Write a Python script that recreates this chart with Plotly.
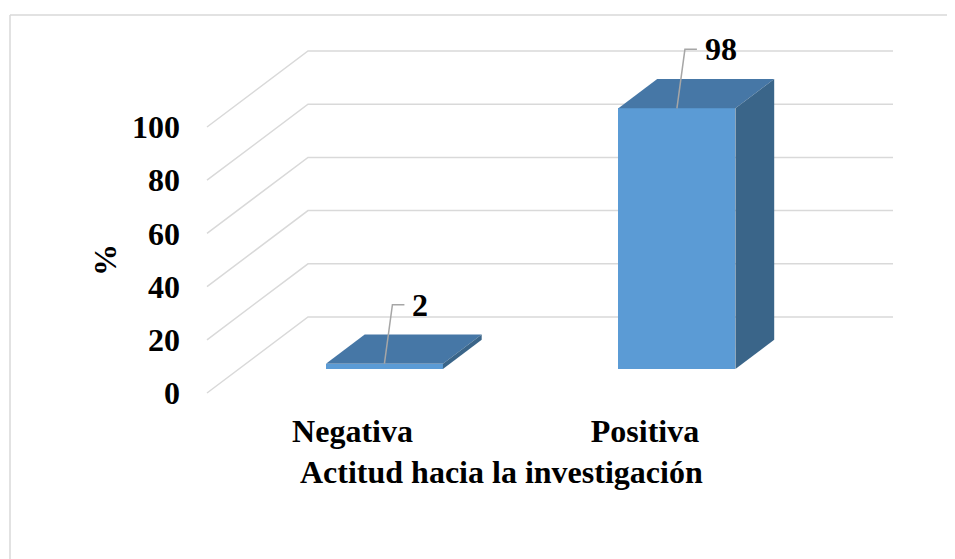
import plotly.graph_objects as go

# ---------------- data ----------------
categories = ["Negativa", "Positiva"]
values = [2, 98]
y_ticks = [0, 20, 40, 60, 80, 100]
x_title = "Actitud hacia la investigación"
y_title = "%"

# ---------------- layout geometry ----------------
W, H = 955, 559
OFF = 8                    # page body margin: figure pixel = window pixel - OFF
ML, MR, MT, MB = 190, 64, 36, 166
PX_PER_X = 292.5           # pixels per category step
PX_PER_Y = 2.66            # pixels per percent unit
X0_PX = 352.5 - OFF        # pixel of category 0 (front floor)
Y0_PX = 393 - OFF          # pixel of value 0 (front floor)

x_range = [(ML - X0_PX) / PX_PER_X, (W - MR - X0_PX) / PX_PER_X]
y_range = [-(H - MB - Y0_PX) / PX_PER_Y, (Y0_PX - MT) / PX_PER_Y]

DX = 101 / PX_PER_X        # depth offset of back wall (x units)
DY = 76 / PX_PER_Y         # depth offset of back wall (y units)
F0, F1 = 0.316, 0.70       # bar front / back depth fractions
BAR_W = 117 / PX_PER_X
X_FRONT_LEFT = (207 - OFF - X0_PX) / PX_PER_X
X_BACK_RIGHT = (893 - OFF - X0_PX) / PX_PER_X

GRID = "#d9d9d9"
FRONT = "#5b9bd5"
TOP = "#4677a6"
SIDE = "#3a6589"
FONT = "Liberation Serif"
FS = 32

fig = go.Figure()

# gridlines: floor-side diagonals + back wall (base axes, drawn underneath)
for t in y_ticks:
    fig.add_trace(go.Scatter(
        x=[X_FRONT_LEFT, X_FRONT_LEFT + DX, X_BACK_RIGHT],
        y=[t, t + DY, t + DY],
        mode="lines", line=dict(color=GRID, width=1.5),
        hoverinfo="skip", showlegend=False, xaxis="x", yaxis="y"))

# bars (overlay axes, drawn on top of gridlines)
xc = [i + F0 * DX for i in range(len(categories))]
base = F0 * DY
ddx = (F1 - F0) * DX
ddy = (F1 - F0) * DY
fig.add_trace(go.Bar(
    x=xc, y=values, base=[base] * len(values), width=BAR_W,
    marker=dict(color=FRONT, line=dict(width=0)),
    hoverinfo="skip", showlegend=False, xaxis="x2", yaxis="y2"))
for c, v in zip(xc, values):
    l, r = c - BAR_W / 2, c + BAR_W / 2
    top = base + v
    fig.add_trace(go.Scatter(
        x=[l, r, r + ddx, l + ddx, l], y=[top, top, top + ddy, top + ddy, top],
        mode="lines", fill="toself", fillcolor=TOP, line=dict(width=0, color=TOP),
        hoverinfo="skip", showlegend=False, xaxis="x2", yaxis="y2"))
    fig.add_trace(go.Scatter(
        x=[r, r, r + ddx, r + ddx, r], y=[base, top, top + ddy, base + ddy, base],
        mode="lines", fill="toself", fillcolor=SIDE, line=dict(width=0, color=SIDE),
        hoverinfo="skip", showlegend=False, xaxis="x2", yaxis="y2"))

# data labels with elbow leader lines
LEAD_UP = 59 / PX_PER_Y
LEAD_DX = 8 / PX_PER_X
LEAD_H = 12 / PX_PER_X
TXT_GAP = 6 / PX_PER_X
for c, v in zip(xc, values):
    top = base + v
    ex, ey = c + LEAD_DX, top + LEAD_UP
    fig.add_trace(go.Scatter(
        x=[c, ex, ex + LEAD_H], y=[top, ey, ey],
        mode="lines", line=dict(color="#a6a6a6", width=1.5),
        hoverinfo="skip", showlegend=False, xaxis="x2", yaxis="y2"))
    fig.add_annotation(
        x=ex + LEAD_H + TXT_GAP, y=ey, xref="x2", yref="y2",
        text=f"<b>{v}</b>", showarrow=False, xanchor="left", yanchor="middle",
        font=dict(family=FONT, size=FS, color="black"))

pw = W - ML - MR
ph = H - MT - MB


def px2paper(px, py):
    """window pixel -> paper fraction"""
    return (px - OFF - ML) / pw, (H - MB - (py - OFF)) / ph


# axis titles
tx, ty = px2paper(501.5, 472)
fig.add_annotation(x=tx, y=ty, xref="paper", yref="paper", text=f"<b>{x_title}</b>",
                   showarrow=False, xanchor="center", yanchor="middle",
                   font=dict(family=FONT, size=FS, color="black"))
tx, ty = px2paper(105, 260)
fig.add_annotation(x=tx, y=ty, xref="paper", yref="paper", text=f"<b>{y_title}</b>",
                   showarrow=False, xanchor="center", yanchor="middle", textangle=-90,
                   font=dict(family=FONT, size=FS, color="black"))

# chart border (left and top edges)
bx0, by0 = px2paper(10, 15)
bx1, _ = px2paper(963, 15)
_, by1 = px2paper(10, 567)
fig.add_shape(type="line", xref="paper", yref="paper", x0=bx0, y0=by0, x1=bx1, y1=by0,
              line=dict(color="#d9d9d9", width=1.5))
fig.add_shape(type="line", xref="paper", yref="paper", x0=bx0, y0=by0, x1=bx0, y1=by1,
              line=dict(color="#d9d9d9", width=1.5))

hidden = dict(showgrid=False, zeroline=False, showline=False, ticks="",
              showticklabels=False)
fig.update_layout(
    width=W, height=H,
    margin=dict(l=ML, r=MR, t=MT, b=MB, pad=0),
    paper_bgcolor="white", plot_bgcolor="white",
    bargap=0, showlegend=False,
    xaxis=dict(range=x_range, tickmode="array", tickvals=list(range(len(categories))),
               ticktext=[f"<b>{c}</b>" for c in categories],
               showgrid=False, zeroline=False, showline=False, ticks="",
               ticklabelstandoff=8,
               tickfont=dict(family=FONT, size=FS, color="black")),
    yaxis=dict(range=y_range, tickmode="array", tickvals=y_ticks,
               ticktext=[f"<b>{t}</b>" for t in y_ticks],
               showgrid=False, zeroline=False, showline=False, ticks="",
               ticklabelstandoff=17,
               tickfont=dict(family=FONT, size=FS, color="black")),
    xaxis2=dict(range=x_range, overlaying="x", anchor="y2", **hidden),
    yaxis2=dict(range=y_range, overlaying="y", anchor="x2", **hidden),
)

fig.write_html("out.html")
